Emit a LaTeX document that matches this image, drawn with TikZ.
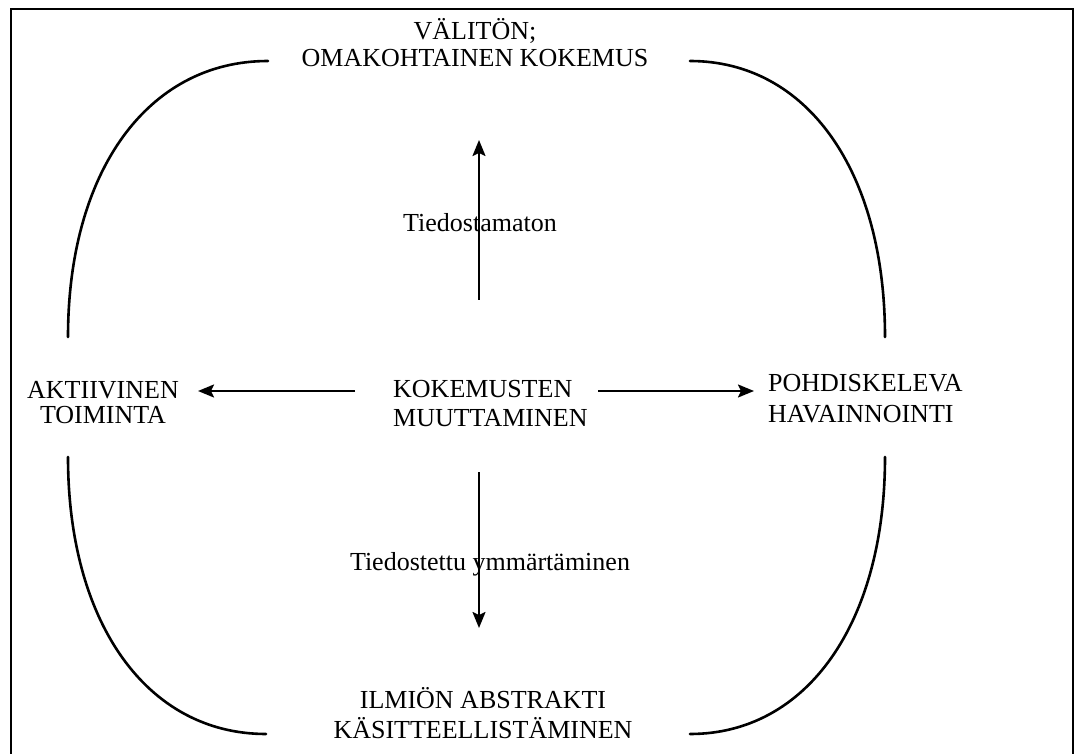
\documentclass[tikz,border=0pt]{standalone}
\usepackage{fontspec}
\setmainfont{Liberation Serif}
\usetikzlibrary{arrows.meta}
\newcommand\lblC[3]{\vtop{\baselineskip=#1\relax\lineskiplimit=-100pt\halign{\hfil##\hfil\cr#2\cr#3\cr}}}
\newcommand\lblL[3]{\vtop{\baselineskip=#1\relax\lineskiplimit=-100pt\halign{##\hfil\cr#2\cr#3\cr}}}
\tikzset{
  txt/.style={inner sep=0pt, anchor=base, font=\fontsize{26}{28}\selectfont},
  txtl/.style={inner sep=0pt, anchor=base west, font=\fontsize{26}{28}\selectfont},
  cycle line/.style={line width=2.6pt, line cap=round},
  flow/.style={line width=2.1pt, -{Stealth[length=16pt,width=13pt,inset=3pt]}},
  frame/.style={line width=2pt}
}
\begin{document}
\begin{tikzpicture}[x=1pt,y=-1pt]
\useasboundingbox (0,0) rectangle (1077,754);
% frame
\coordinate (fbl) at (11,754);
\coordinate (ftl) at (11,9);
\coordinate (ftr) at (1073,9);
\coordinate (fbr) at (1073,754);
\draw[frame] (fbl) -- (ftl) -- (ftr) -- (fbr);

% texts
\node[txt] (top) at (475,40) {\lblC{27pt}{VÄLITÖN;}{OMAKOHTAINEN KOKEMUS}};
\node[txtl] (mid) at (393,397) {\lblL{29pt}{KOKEMUSTEN}{MUUTTAMINEN}};
\node[txt] (left) at (103,398) {\lblC{25pt}{AKTIIVINEN}{TOIMINTA}};
\node[txtl] (right) at (768,391) {\lblL{31pt}{POHDISKELEVA}{HAVAINNOINTI}};
\node[txt] (bottom) at (483,708) {\lblC{30pt}{ILMIÖN ABSTRAKTI}{KÄSITTEELLISTÄMINEN}};
\node[txt] (tiedA) at (480,232) {Tiedostamaton};
\node[txt] (tiedB) at (490,570) {Tiedostettu ymmärtäminen};

% arrow end points
\coordinate (upS) at (479,300);
\coordinate (upE) at (479,140);
\coordinate (dnS) at (479,472);
\coordinate (dnE) at (479,628);
\coordinate (lfS) at (355,391);
\coordinate (lfE) at (198,391);
\coordinate (rtS) at (598,391);
\coordinate (rtE) at (754,391);
\draw[flow] (upS) -- (upE);
\draw[flow] (dnS) -- (dnE);
\draw[flow] (lfS) -- (lfE);
\draw[flow] (rtS) -- (rtE);

% cycle curves
\coordinate (tlA) at (268,61);
\coordinate (tlB) at (68,337);
\coordinate (trA) at (690,61);
\coordinate (trB) at (885,337);
\coordinate (blA) at (68,457);
\coordinate (blB) at (266,734);
\coordinate (brA) at (885,457);
\coordinate (brB) at (690,734);
\draw[cycle line] (tlA) .. controls (148,61) and (68,171) .. (tlB);
\draw[cycle line] (trA) .. controls (807,61) and (885,171) .. (trB);
\draw[cycle line] (blA) .. controls (68,623) and (147,734) .. (blB);
\draw[cycle line] (brA) .. controls (885,623) and (807,734) .. (brB);
\end{tikzpicture}
\end{document}
